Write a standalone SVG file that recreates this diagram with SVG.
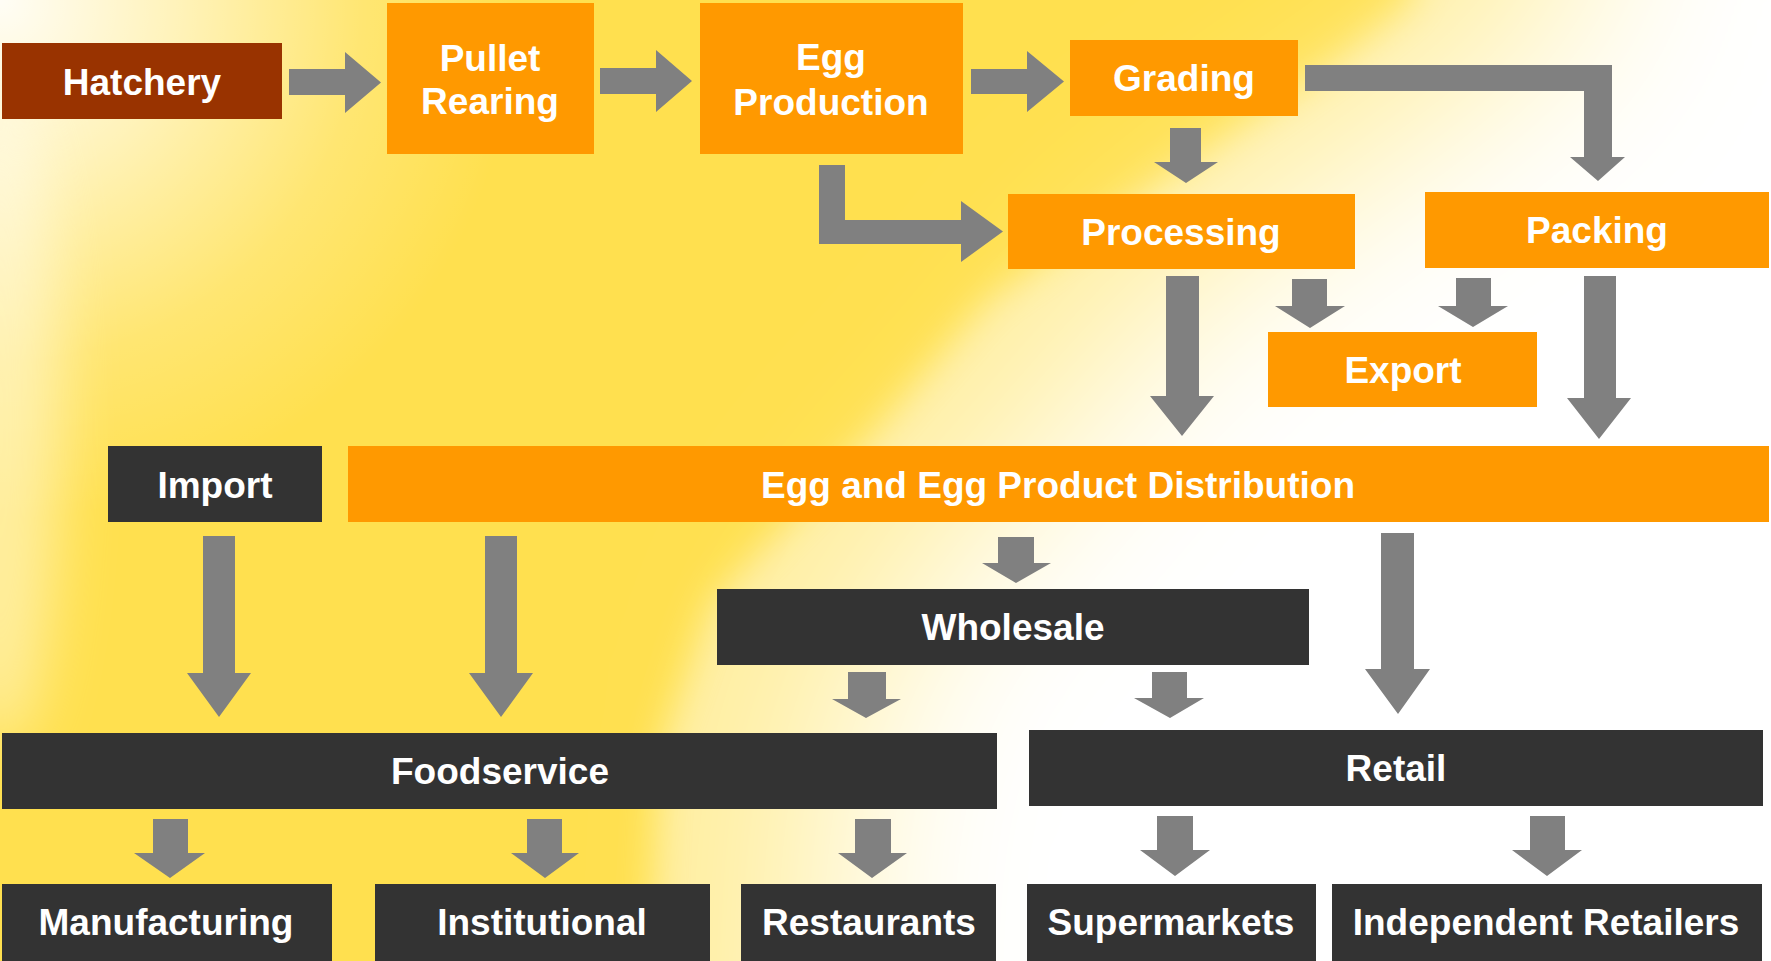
<svg xmlns="http://www.w3.org/2000/svg" width="1771" height="961" viewBox="0 0 1771 961">
<defs>
<radialGradient id="tl" gradientUnits="userSpaceOnUse" cx="0" cy="0" r="520">
<stop offset="0" stop-color="#FFFFFF" stop-opacity="0.95"/>
<stop offset="0.35" stop-color="#FFFFFF" stop-opacity="0.6"/>
<stop offset="0.7" stop-color="#FFFFFF" stop-opacity="0.2"/>
<stop offset="1" stop-color="#FFFFFF" stop-opacity="0"/>
</radialGradient>
<filter id="blurSoft" x="-50%" y="-50%" width="200%" height="200%">
<feGaussianBlur stdDeviation="100"/>
</filter>
<filter id="blurEdge" x="-50%" y="-50%" width="200%" height="200%">
<feGaussianBlur stdDeviation="18"/>
</filter>
<filter id="blur2" x="-50%" y="-50%" width="200%" height="200%">
<feGaussianBlur stdDeviation="30"/>
</filter>
<style>
.o{fill:#FF9900}
.d{fill:#333333}
.h{fill:#993300}
.a{fill:#808080}
text{font-family:"Liberation Sans",Arial,sans-serif;font-weight:bold;font-size:37px;fill:#FFFFFF;text-anchor:middle}
</style>
</defs>
<g id="background">
<rect x="0" y="0" width="1771" height="961" fill="#FFE04F"/>
<rect x="0" y="0" width="1771" height="961" fill="url(#tl)"/>
<ellipse cx="0" cy="420" rx="60" ry="330" fill="#FFFFFF" opacity="0.45" filter="url(#blur2)"/>
<path d="M1416,-200 L1416,0 L1340,60 L1164,180 L988,300 L868,440 L712,600 L660,750 L640,1200 L2100,1200 L2100,-200 Z" fill="#FFFFFF" opacity="0.45" filter="url(#blurEdge)"/>
<path d="M1580,-250 L1580,0 L1500,60 L1330,180 L1160,300 L1040,450 L900,600 L830,750 L810,1250 L2200,1250 L2200,-250 Z" fill="#FFFFFF" filter="url(#blurSoft)"/>
</g>
<g id="connectors">
<polygon class="a" points="289,69 345,69 345,52 381,82.5 345,113 345,95 289,95"/>
<polygon class="a" points="600,68 656,68 656,50 692,81 656,112 656,94 600,94"/>
<polygon class="a" points="971,69 1027,69 1027,51 1064,81.5 1027,112 1027,94 971,94"/>
<polygon class="a" points="1170,128 1201,128 1201,162 1218,162 1186,183 1154,162 1170,162"/>
<polygon class="a" points="819,165 845,165 845,220 961,220 961,201 1003,231.5 961,262 961,244 819,244"/>
<polygon class="a" points="1305,65 1612,65 1612,157 1625,157 1598,181 1570,157 1584,157 1584,91 1305,91"/>
<polygon class="a" points="1166,276 1199,276 1199,396 1214,396 1182,436 1150,396 1166,396"/>
<polygon class="a" points="1292,279 1327,279 1327,306 1345,306 1310,328 1275,306 1292,306"/>
<polygon class="a" points="1456,278 1491,278 1491,306 1508,306 1473,327 1438,306 1456,306"/>
<polygon class="a" points="1584,276 1616,276 1616,398 1631,398 1599,439 1567,398 1584,398"/>
<polygon class="a" points="203,536 235,536 235,673 251,673 219,717 187,673 203,673"/>
<polygon class="a" points="485,536 517,536 517,673 533,673 501,717 469,673 485,673"/>
<polygon class="a" points="998,537 1034,537 1034,563 1051,563 1016,583 982,563 998,563"/>
<polygon class="a" points="1381,533 1414,533 1414,669 1430,669 1398,714 1365,669 1381,669"/>
<polygon class="a" points="848,672 886,672 886,699 901,699 866,718 832,699 848,699"/>
<polygon class="a" points="1152,672 1187,672 1187,698 1204,698 1170,718 1134,698 1152,698"/>
<polygon class="a" points="153,819 188,819 188,853 205,853 170,878 134,853 153,853"/>
<polygon class="a" points="527,819 562,819 562,853 579,853 545,878 511,853 527,853"/>
<polygon class="a" points="855,819 891,819 891,853 907,853 872,878 838,853 855,853"/>
<polygon class="a" points="1157,816 1193,816 1193,850 1210,850 1175,876 1140,850 1157,850"/>
<polygon class="a" points="1530,816 1565,816 1565,850 1582,850 1547,876 1512,850 1530,850"/>
</g>
<g id="hatchery"><rect class="h" x="2" y="43" width="280" height="76"/><text x="142" y="95">Hatchery</text></g>
<g id="pullet"><rect class="o" x="387" y="3" width="207" height="151"/><text x="490" y="71">Pullet</text><text x="490" y="114">Rearing</text></g>
<g id="eggprod"><rect class="o" x="700" y="3" width="263" height="151"/><text x="831" y="70">Egg</text><text x="831" y="115">Production</text></g>
<g id="grading"><rect class="o" x="1070" y="40" width="228" height="76"/><text x="1184" y="91">Grading</text></g>
<g id="processing"><rect class="o" x="1008" y="194" width="347" height="75"/><text x="1181" y="245">Processing</text></g>
<g id="packing"><rect class="o" x="1425" y="192" width="344" height="76"/><text x="1597" y="243">Packing</text></g>
<g id="export"><rect class="o" x="1268" y="332" width="269" height="75"/><text x="1403" y="383">Export</text></g>
<g id="import"><rect class="d" x="108" y="446" width="214" height="76"/><text x="215" y="498">Import</text></g>
<g id="distribution"><rect class="o" x="348" y="446" width="1421" height="76"/><text x="1058" y="498">Egg and Egg Product Distribution</text></g>
<g id="wholesale"><rect class="d" x="717" y="589" width="592" height="76"/><text x="1013" y="640">Wholesale</text></g>
<g id="foodservice"><rect class="d" x="2" y="733" width="995" height="76"/><text x="500" y="784">Foodservice</text></g>
<g id="retail"><rect class="d" x="1029" y="730" width="734" height="76"/><text x="1396" y="781">Retail</text></g>
<g id="manufacturing"><rect class="d" x="2" y="884" width="330" height="77"/><text x="166" y="935">Manufacturing</text></g>
<g id="institutional"><rect class="d" x="375" y="884" width="335" height="77"/><text x="542" y="935">Institutional</text></g>
<g id="restaurants"><rect class="d" x="741" y="884" width="255" height="77"/><text x="869" y="935">Restaurants</text></g>
<g id="supermarkets"><rect class="d" x="1027" y="884" width="289" height="77"/><text x="1171" y="935">Supermarkets</text></g>
<g id="independent"><rect class="d" x="1332" y="884" width="430" height="77"/><text x="1546" y="935">Independent Retailers</text></g>
</svg>
